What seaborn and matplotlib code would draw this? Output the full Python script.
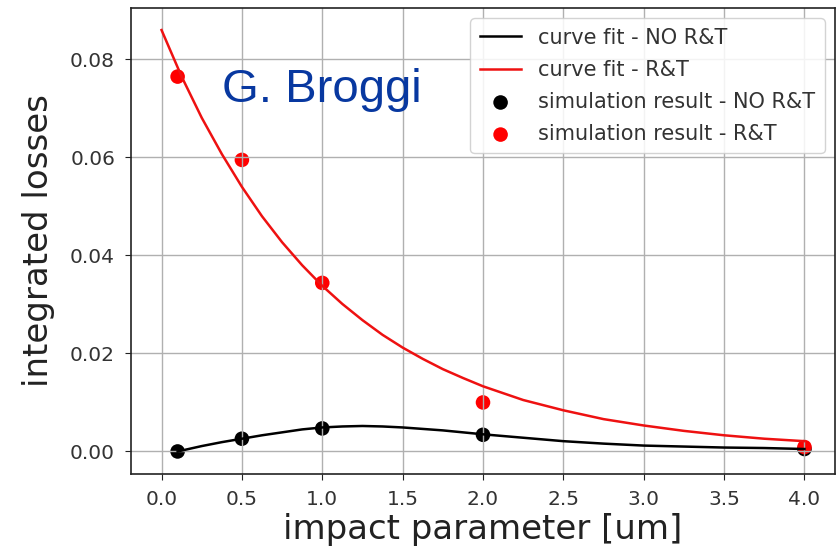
import matplotlib
matplotlib.use("Agg")
import matplotlib.pyplot as plt
import seaborn as sns
import pandas as pd

# simulation results
sim_x = [0.1, 0.5, 1.0, 2.0, 4.0]
sim_no_rt = [0.0000, 0.0026, 0.0047, 0.0034, 0.0005]
sim_rt = [0.0765, 0.0595, 0.0344, 0.0100, 0.0009]

# curve fit R&T
fit_rt_x = [0.0, 0.125, 0.25, 0.375, 0.5, 0.625, 0.75, 0.875, 1.0, 1.125,
            1.25, 1.375, 1.5, 1.625, 1.75, 1.875, 2.0, 2.25, 2.5, 2.75,
            3.0, 3.25, 3.5, 3.75, 4.0]
fit_rt_y = [0.0860, 0.0765, 0.0681, 0.0607, 0.0540, 0.0480, 0.0427, 0.0380,
            0.0338, 0.0301, 0.0268, 0.0238, 0.0212, 0.0189, 0.0168, 0.0150,
            0.0133, 0.0105, 0.0084, 0.0066, 0.0053, 0.0042, 0.0033, 0.0026,
            0.0021]

# curve fit NO R&T
fit_no_x = [0.1, 0.25, 0.375, 0.5, 0.625, 0.75, 0.875, 1.0, 1.125, 1.25,
            1.375, 1.5, 1.625, 1.75, 1.875, 2.0, 2.25, 2.5, 2.75, 3.0,
            3.25, 3.5, 3.75, 4.0]
fit_no_y = [0.0000, 0.0011, 0.0019, 0.0026, 0.0033, 0.0039, 0.0045, 0.0049,
            0.0051, 0.0052, 0.0051, 0.0049, 0.0046, 0.0043, 0.0039, 0.0035,
            0.0028, 0.0021, 0.0016, 0.0012, 0.0010, 0.0008, 0.0007, 0.0005]

x_ticks = [0.0, 0.5, 1.0, 1.5, 2.0, 2.5, 3.0, 3.5, 4.0]
y_ticks = [0.00, 0.02, 0.04, 0.06, 0.08]

fig = plt.figure(figsize=(8.4, 5.48), dpi=100)
ax = fig.add_axes([131 / 840, 1 - 474 / 548, (835 - 131) / 840, (474 - 8) / 548])

df_no = pd.DataFrame({"x": fit_no_x, "y": fit_no_y})
df_rt = pd.DataFrame({"x": fit_rt_x, "y": fit_rt_y})
df_sim = pd.DataFrame({"x": sim_x, "no": sim_no_rt, "rt": sim_rt})

sns.lineplot(data=df_no, x="x", y="y", color="black", linewidth=1.8,
             label="curve fit - NO R&T", ax=ax, sort=False)
sns.lineplot(data=df_rt, x="x", y="y", color="#ee1111", linewidth=1.8,
             label="curve fit - R&T", ax=ax, sort=False)
sns.scatterplot(data=df_sim, x="x", y="no", color="black", s=110,
                edgecolor="none", label="simulation result - NO R&T", ax=ax)
sns.scatterplot(data=df_sim, x="x", y="rt", color="#ff0000", s=110,
                edgecolor="none", label="simulation result - R&T", ax=ax)

ax.set_xlim(-0.19, 4.19)
ax.set_ylim(-0.0046, 0.0905)
ax.set_xticks(x_ticks)
ax.set_xticklabels([f"{v:.1f}" for v in x_ticks])
ax.set_yticks(y_ticks)
ax.set_yticklabels([f"{v:.2f}" for v in y_ticks])
ax.tick_params(labelsize=14.5, labelcolor="#333333", color="#222222",
               length=4.5, pad=7)
ax.grid(True, color="#b0b0b0", linewidth=1.0)
ax.set_axisbelow("line")
for sp in ax.spines.values():
    sp.set_color("#222222")
    sp.set_linewidth(1.2)

ax.set_xlabel("impact parameter [um]", fontsize=24.5, color="#222222", labelpad=3)
ax.set_ylabel("integrated losses", fontsize=24.5, color="#222222", labelpad=11)

leg = ax.legend(loc="upper right", fontsize=15, framealpha=0.85,
                borderaxespad=0.5, handlelength=2.0, borderpad=0.45,
                labelspacing=0.58)
for t in leg.get_texts():
    t.set_color("#333333")

fig.text(222 / 840, 1 - 102 / 548, "G. Broggi", fontsize=34,
         family=["Liberation Sans", "DejaVu Sans"], color="#0838a0",
         va="baseline", ha="left")

fig.savefig("out.png", dpi=100)
